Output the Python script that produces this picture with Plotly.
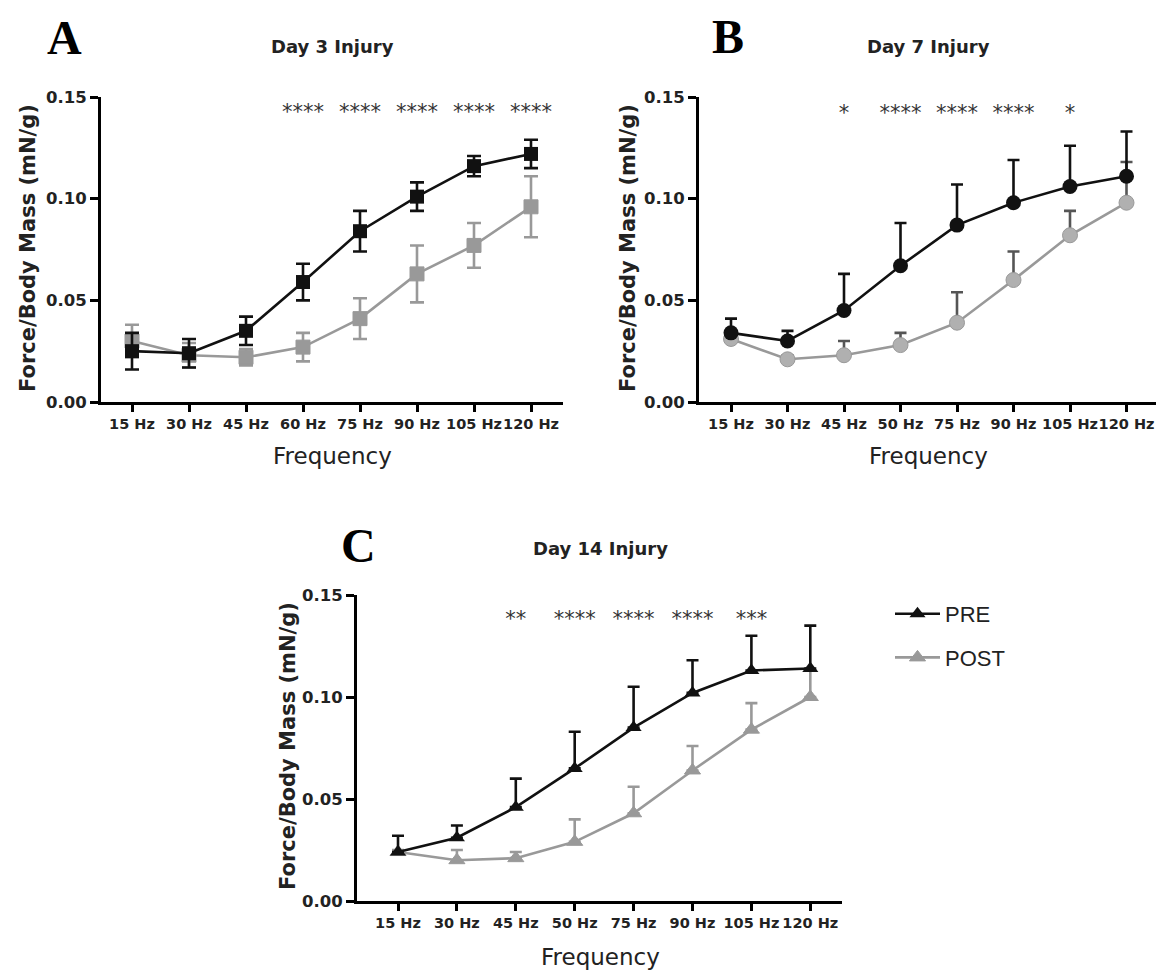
import plotly.graph_objects as go

# ---------------- data ----------------
idx = [0, 1, 2, 3, 4, 5, 6, 7]
labels_A = ["15 Hz", "30 Hz", "45 Hz", "60 Hz", "75 Hz", "90 Hz", "105 Hz", "120 Hz"]
labels_BC = ["15 Hz", "30 Hz", "45 Hz", "50 Hz", "75 Hz", "90 Hz", "105 Hz", "120 Hz"]

a_pre = [0.025, 0.024, 0.035, 0.059, 0.084, 0.101, 0.116, 0.122]
a_pre_err = [0.009, 0.007, 0.007, 0.009, 0.010, 0.007, 0.005, 0.007]
a_post = [0.030, 0.023, 0.022, 0.027, 0.041, 0.063, 0.077, 0.096]
a_post_err = [0.008, 0.006, 0.004, 0.007, 0.010, 0.014, 0.011, 0.015]

b_pre = [0.034, 0.030, 0.045, 0.067, 0.087, 0.098, 0.106, 0.111]
b_pre_err = [0.007, 0.005, 0.018, 0.021, 0.020, 0.021, 0.020, 0.022]
b_post = [0.031, 0.021, 0.023, 0.028, 0.039, 0.060, 0.082, 0.098]
b_post_err = [0.002, 0.002, 0.007, 0.006, 0.015, 0.014, 0.012, 0.020]

c_pre = [0.024, 0.031, 0.046, 0.065, 0.085, 0.102, 0.113, 0.114]
c_pre_err = [0.008, 0.006, 0.014, 0.018, 0.020, 0.016, 0.017, 0.021]
c_post = [0.024, 0.020, 0.021, 0.029, 0.043, 0.064, 0.084, 0.100]
c_post_err = [0.001, 0.005, 0.003, 0.011, 0.013, 0.012, 0.013, 0.013]

sig_A = ["", "", "", "****", "****", "****", "****", "****"]
sig_B = ["", "", "*", "****", "****", "****", "*", ""]
sig_C = ["", "", "**", "****", "****", "****", "***", ""]
sig_level = [0.142, 0.1415, 0.1375]

y_ticks = [0, 0.05, 0.10, 0.15]
y_ticktext = ["0.00", "0.05", "0.10", "0.15"]

# ---------------- style ----------------
W, H = 1168, 970
OFF = 8  # default page margin of the html body
BLACK = "#111111"
GREY = "#999999"
GREY_FILL = "#b0b0b0"
FONT = "DejaVu Sans"


def px(x):
    return (x - OFF) / W


def py(y):
    return 1 - (y - OFF) / H


fig = go.Figure()


def add_pair(xa, ya, pre, pre_err, post, post_err, symbol, msize, cap, sym, show_leg,
             post_fill, post_err_col):
    zeros = [0] * len(pre)
    fig.add_trace(go.Scatter(
        x=idx, y=post, xaxis=xa, yaxis=ya, mode="lines+markers",
        line=dict(color=GREY, width=2.6),
        marker=dict(symbol=symbol, size=msize, color=post_fill, line=dict(color=GREY, width=1)),
        error_y=dict(type="data", array=post_err,
                     arrayminus=post_err if sym else zeros, symmetric=False,
                     color=post_err_col, thickness=2.6, width=cap),
        name="POST", showlegend=show_leg, legendgroup="post", legendrank=2,
    ))
    fig.add_trace(go.Scatter(
        x=idx, y=pre, xaxis=xa, yaxis=ya, mode="lines+markers",
        line=dict(color=BLACK, width=2.6),
        marker=dict(symbol=symbol, size=msize, color=BLACK),
        error_y=dict(type="data", array=pre_err,
                     arrayminus=pre_err if sym else zeros, symmetric=False,
                     color=BLACK, thickness=2.6, width=cap),
        name="PRE", showlegend=show_leg, legendgroup="pre", legendrank=1,
    ))


add_pair("x", "y", a_pre, a_pre_err, a_post, a_post_err, "square", 14, 7, True, False, GREY, GREY)
add_pair("x2", "y2", b_pre, b_pre_err, b_post, b_post_err, "circle", 15, 6, False, False,
         GREY_FILL, "#555555")
add_pair("x3", "y3", c_pre, c_pre_err, c_post, c_post_err, "triangle-up", 14, 6, False, True,
         GREY, GREY)

for xa, ya, sig, lev in [("x", "y", sig_A, sig_level[0]), ("x2", "y2", sig_B, sig_level[1]),
                         ("x3", "y3", sig_C, sig_level[2])]:
    fig.add_trace(go.Scatter(
        x=idx, y=[lev] * len(idx), xaxis=xa, yaxis=ya, mode="text", text=sig,
        textfont=dict(family=FONT, size=21, color="#333333"),
        showlegend=False, hoverinfo="skip",
    ))

# axes geometry (pixels on the page)
panels = {
    "": dict(x0=101, x1=563, y0=97, y1=402, t0=132, dt=57, labels=labels_A),
    "2": dict(x0=699, x1=1156, y0=97, y1=402, t0=731, dt=56.5, labels=labels_BC),
    "3": dict(x0=357, x1=842, y0=595, y1=901, t0=398, dt=58.9, labels=labels_BC),
}

layout_axes = {}
for k, p in panels.items():
    r0 = (p["x0"] - p["t0"]) / p["dt"]
    r1 = (p["x1"] - p["t0"]) / p["dt"]
    layout_axes["xaxis" + k] = dict(
        domain=[px(p["x0"]), px(p["x1"])], anchor="y" + k, range=[r0, r1],
        tickmode="array", tickvals=idx, ticktext=p["labels"], tickangle=0,
        showline=True, linecolor="black", linewidth=3, ticks="outside", ticklen=7,
        tickwidth=2.5, tickcolor="black", showgrid=False, zeroline=False,
        tickfont=dict(family=FONT, size=14.5, color="#222222", weight="bold"), automargin=False,
    )
    layout_axes["yaxis" + k] = dict(
        domain=[py(p["y1"]), py(p["y0"])], anchor="x" + k, range=[0, 0.15],
        tickmode="array", tickvals=y_ticks, ticktext=y_ticktext,
        showline=True, linecolor="black", linewidth=3, ticks="outside", ticklen=8,
        tickwidth=2.5, tickcolor="black", showgrid=False, zeroline=False,
        tickfont=dict(family=FONT, size=16.5, color="#222222", weight="bold"), automargin=False,
    )

annotations = []


def ann(text, x, y, size, family=FONT, angle=0, color="#222222"):
    annotations.append(dict(text=text, x=px(x), y=py(y), xref="paper", yref="paper",
                            xanchor="center", yanchor="middle", showarrow=False, textangle=angle,
                            font=dict(family=family, size=size, color=color)))


# panel letters
for letter, (x, y) in {"A": (64, 37), "B": (728, 36), "C": (358, 545)}.items():
    ann("<b>%s</b>" % letter, x, y, 48, family="Liberation Serif", color="black")
# titles
for t, (x, y) in {"Day 3 Injury": (332, 47), "Day 7 Injury": (928, 47), "Day 14 Injury": (600, 548)}.items():
    ann("<b>%s</b>" % t, x, y, 18)
# x titles
for x, y in [(332, 456), (928, 456), (600, 957)]:
    ann("Frequency", x, y, 23)
# y titles
for x, y in [(28, 248), (628, 248), (288, 746)]:
    ann("<b>Force/Body Mass (mN/g)</b>", x, y, 21, angle=-90)

fig.update_layout(
    width=W, height=H, margin=dict(l=0, r=0, t=0, b=0),
    paper_bgcolor="white", plot_bgcolor="white",
    annotations=annotations,
    legend=dict(x=px(890), y=py(593), xanchor="left", yanchor="top",
                font=dict(family="Liberation Sans", size=22, color="#222222"),
                itemwidth=45, tracegroupgap=12, traceorder="grouped", bgcolor="rgba(0,0,0,0)"),
    **layout_axes,
)

fig.write_html("out.html")
